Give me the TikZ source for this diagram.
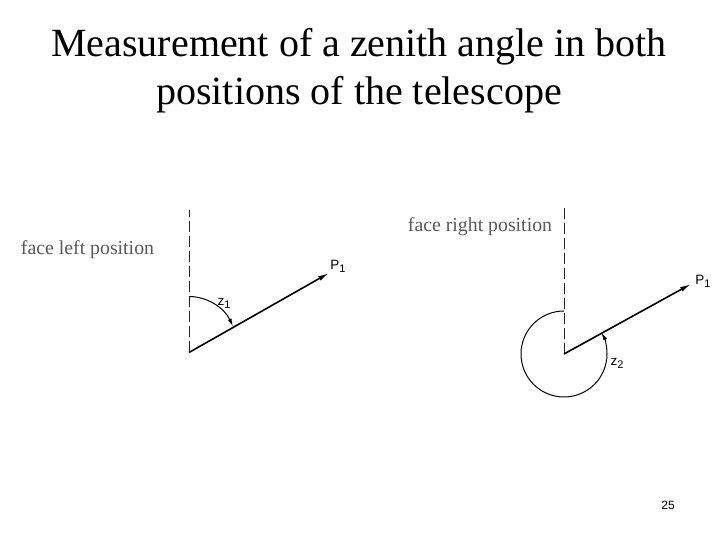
\documentclass[tikz,border=0pt]{standalone}
\usepackage{fontspec}
\setmainfont{Liberation Serif}
\newfontfamily\labelfont{Liberation Sans}
\usetikzlibrary{arrows.meta}
\newcommand\sublabel[2]{#1\raisebox{-3pt}{\fontsize{11}{12}\selectfont #2}}
\tikzset{
    slidetitle/.style={font=\fontsize{40}{48}\selectfont,align=center,text=black},
    facelabel/.style={font=\fontsize{19.8}{22}\selectfont,text=black!65},
    anglelabel/.style={font=\labelfont\fontsize{13.5}{14}\selectfont,inner sep=0pt},
    vertical/.style={dash pattern=on 11pt off 4pt,line width=1pt,black!85},
    sight/.style={-{Latex[length=11pt,width=5pt]},line width=1.6pt},
    anglearc/.style={-{Latex[length=8pt,width=4pt]},line width=1pt},
}
\begin{document}
\begin{tikzpicture}[x=1pt,y=1pt]
    \useasboundingbox[fill=white] (0,0) rectangle (720,540);
    \node[slidetitle] (title) at (359,469.5) {Measurement of a zenith angle in both\\positions of the telescope};
    % left
    \coordinate (originL) at (189,187.5);
    \coordinate (topL) at (189,330);
    \coordinate (tipL) at (329,267);
    \draw[vertical] (originL) -- (topL);
    \draw[sight] (originL) -- (tipL);
    \draw[anglearc] (189,243.5) arc (90:27.7:49.7 and 56);
    \node[facelabel] (faceL) at (87.5,290) {face left position};
    \node[anglelabel] (zL) at (224,237) {\sublabel{z}{1}};
    \node[anglelabel] (pL) at (338,274) {\sublabel{P}{1}};
    % right
    \coordinate (originR) at (564,186);
    \coordinate (topR) at (564,333);
    \coordinate (tipR) at (691,256);
    \draw[vertical] (originR) -- (topR);
    \draw[sight] (originR) -- (tipR);
    \draw[anglearc] (564,229) arc (90:390:43);
    \node[facelabel] (faceR) at (480,313) {face right position};
    \node[anglelabel] (zR) at (617,177) {\sublabel{z}{2}};
    \node[anglelabel] (pR) at (703,259) {\sublabel{P}{1}};
    \node[font=\labelfont\fontsize{12}{14}\selectfont] (page) at (668,35) {25};
\end{tikzpicture}
\end{document}
